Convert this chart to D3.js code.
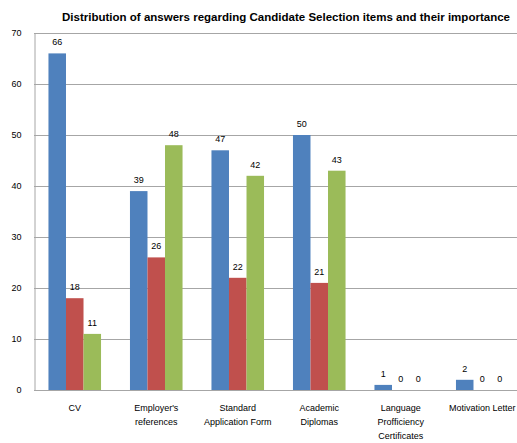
<!DOCTYPE html>
<html><head><meta charset="utf-8">
<script src="https://cdn.jsdelivr.net/npm/d3@7"></script>
<style>body{margin:0;background:#fff;}svg{display:block;font-family:"Liberation Sans",Arial,sans-serif;}</style>
</head><body><svg id="c" width="517" height="443"></svg>
<script>
const categories = ["CV", "Employer's\nreferences", "Standard\nApplication Form", "Academic\nDiplomas", "Language\nProfficiency\nCertificates", "Motivation Letter"];
const seriesA = [66, 39, 47, 50, 1, 2];
const seriesB = [18, 26, 22, 21, 0, 0];
const seriesC = [11, 48, 42, 43, 0, 0];
const yTicks = [0, 10, 20, 30, 40, 50, 60, 70];
const title = "Distribution of answers regarding Candidate Selection items and their importance";
const colors = ["#4F81BD", "#C0504D", "#9BBB59"];

const svg = d3.select("#c");
const m = {l: 34, t: 33, b: 390};
const plotW = 489;
const x = d3.scaleBand().domain(categories.map((d,i)=>i)).range([m.l, m.l+plotW]).paddingInner(0.355).paddingOuter(0.1775);
const xs = d3.scaleBand().domain([0,1,2]).range([0, x.bandwidth()]);
const y = d3.scaleLinear().domain([0,70]).range([m.b, m.t]);

svg.append("text").attr("x", 286).attr("y", 21).attr("text-anchor","middle")
  .attr("font-size", 11).attr("font-weight","bold")
  .attr("textLength", 448).attr("lengthAdjust","spacingAndGlyphs").text(title);

// gridlines
svg.append("g").selectAll("line").data(yTicks.filter(d=>d>0)).join("line")
  .attr("x1", m.l).attr("x2", 517).attr("y1", d=>y(d)+0.5).attr("y2", d=>y(d)+0.5)
  .attr("stroke", "#a6a6a6").attr("stroke-width", 1);
// axes
const yAxis = d3.axisLeft(y).tickValues(yTicks).tickSize(0).tickPadding(13);
const ga = svg.append("g").attr("transform", `translate(${m.l+0.5},0)`).call(yAxis);
ga.select(".domain").attr("stroke", "#a6a6a6");
ga.selectAll("text").attr("font-size", 9).attr("font-family","Liberation Sans, Arial, sans-serif").attr("fill","#000");

const series = [seriesA, seriesB, seriesC];
series.forEach((s, si) => {
  const g = svg.append("g");
  g.selectAll("rect").data(s).join("rect")
    .attr("x", (d,i)=>x(i)+xs(si)).attr("width", xs.bandwidth())
    .attr("y", d=>y(d)).attr("height", d=>y(0)-y(d)).attr("fill", colors[si]);
  g.selectAll("text").data(s).join("text")
    .attr("x", (d,i)=>x(i)+xs(si)+xs.bandwidth()/2).attr("y", d=>y(d)-8)
    .attr("text-anchor","middle").attr("font-size", 9).text(d=>d);
});

svg.append("line").attr("x1", m.l).attr("x2", 517).attr("y1", m.b+0.5).attr("y2", m.b+0.5).attr("stroke","#a6a6a6");

const xl = svg.append("g");
categories.forEach((c, i) => {
  const t = xl.append("text").attr("text-anchor","middle").attr("font-size", 9)
    .attr("x", x(i)+x.bandwidth()/2);
  c.split("\n").forEach((line, li) => {
    t.append("tspan").attr("x", x(i)+x.bandwidth()/2).attr("y", 411 + li*14).text(line);
  });
});
</script></body></html>
